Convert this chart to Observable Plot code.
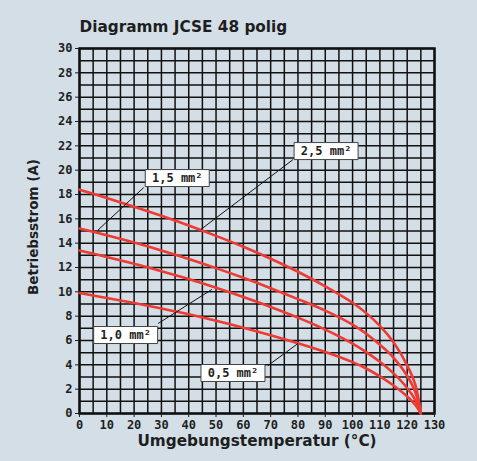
<!DOCTYPE html>
<html><head><meta charset="utf-8">
<script src="https://cdn.jsdelivr.net/npm/d3@7"></script>
<script src="https://cdn.jsdelivr.net/npm/@observablehq/plot@0.6"></script>
<style>
html,body{margin:0;padding:0;background:#d3dee6;}
#chart svg{display:block;}
</style></head><body><div id="chart"></div>
<script>
const title = "Diagramm JCSE 48 polig";
const xLabel = "Umgebungstemperatur (°C)";
const yLabel = "Betriebsstrom (A)";

const temps = [0, 10, 20, 30, 40, 50, 60, 70, 80, 90, 100, 105, 110, 115, 120, 123, 125];
const series = ["2,5 mm²", "1,5 mm²", "1,0 mm²", "0,5 mm²"];
const current25 = [18.4, 17.72, 17.0, 16.25, 15.45, 14.6, 13.7, 12.72, 11.65, 10.45, 9.1, 8.25, 7.2, 5.85, 3.95, 2.35, 0];
const current15 = [15.2, 14.65, 14.05, 13.4, 12.7, 11.95, 11.15, 10.3, 9.4, 8.45, 7.3, 6.55, 5.65, 4.6, 3.1, 1.75, 0];
const current10 = [13.4, 12.86, 12.3, 11.7, 11.05, 10.33, 9.57, 8.76, 7.88, 6.9, 5.75, 5.05, 4.25, 3.3, 2.1, 1.1, 0];
const current05 = [9.9, 9.5, 9.08, 8.63, 8.15, 7.62, 7.05, 6.43, 5.77, 5.05, 4.22, 3.7, 3.05, 2.3, 1.4, 0.7, 0];

const xTicks = d3.range(0, 131, 10);
const yTicks = d3.range(0, 31, 2);
const xGrid = d3.range(0, 131, 5);
const yGrid = d3.range(0, 31, 1);

// annotation boxes (label centre) and leader lines
const labelT = [90.3, 35.8, 16.9, 56.2];
const labelI = [21.57, 19.35, 6.45, 3.33];
const leaderT1 = [78.2, 23.5, 28.8, 69.0];
const leaderI1 = [20.87, 18.57, 7.4, 3.94];
const leaderT2 = [44.4, 6.6, 48.5, 80.0];
const leaderI2 = [15.12, 15.04, 10.2, 5.75];

const curveSets = [current25, current15, current10, current05];
const rows = [];
series.forEach((s, k) => temps.forEach((t, i) => rows.push({series: s, t, i: curveSets[k][i]})));
const labels = series.map((s, k) => ({text: s, t: labelT[k], i: labelI[k], t1: leaderT1[k], i1: leaderI1[k], t2: leaderT2[k], i2: leaderI2[k]}));

const boxSymbol = {draw(ctx) { ctx.rect(-32, -8.5, 64, 17); }};
const bg = "#d3dee6";
const red = "#ee3a33";
const ink = "#1e1e22";

const chart = Plot.plot({
  width: 477,
  height: 461,
  marginLeft: 79,
  marginRight: 43,
  marginTop: 48,
  marginBottom: 48,
  style: {background: bg, fontFamily: "'DejaVu Sans Mono', monospace", fontWeight: "bold", fontSize: "12px", color: ink},
  x: {domain: [0, 130], label: null},
  y: {domain: [0, 30], label: null},
  marks: [
    Plot.ruleX(xGrid, {stroke: "#111", strokeWidth: 1.5}),
    Plot.ruleY(yGrid, {stroke: "#111", strokeWidth: 1.5}),
    Plot.frame({stroke: "#111", strokeWidth: 2.5}),
    Plot.axisX({ticks: xTicks, tickSize: 4, tickPadding: 3, tickFormat: d => String(d), label: null, fill: ink}),
    Plot.axisY({ticks: yTicks, tickSize: 4, tickPadding: 3, tickFormat: d => String(d), label: null, fill: ink}),
    Plot.line(rows, {x: "t", y: "i", z: "series", stroke: red, strokeWidth: 2.6, curve: "catmull-rom"}),
    Plot.link(labels, {x1: "t1", y1: "i1", x2: "t2", y2: "i2", stroke: "#111", strokeWidth: 1}),
    Plot.dot(labels, {x: "t", y: "i", symbol: boxSymbol, r: 5, fill: "white", stroke: "#444", strokeWidth: 1}),
    Plot.text(labels, {x: "t", y: "i", text: "text", fill: ink, fontSize: 12, fontWeight: "bold"}),
    Plot.text([title], {frameAnchor: "top-left", dy: -17, textAnchor: "start", lineAnchor: "bottom", fontFamily: "'DejaVu Sans', sans-serif", fontSize: 15.3, fontWeight: "bold", fill: ink}),
    Plot.text([xLabel], {frameAnchor: "bottom", dy: 28, lineAnchor: "middle", fontFamily: "'DejaVu Sans', sans-serif", fontSize: 15.3, fontWeight: "bold", fill: ink}),
    Plot.text([yLabel], {frameAnchor: "left", dx: -46, dy: -4, rotate: -90, textAnchor: "middle", lineAnchor: "middle", fontFamily: "'DejaVu Sans', sans-serif", fontSize: 13.5, fontWeight: "bold", fill: ink})
  ]
});
document.getElementById("chart").appendChild(chart);
</script>
</body></html>
